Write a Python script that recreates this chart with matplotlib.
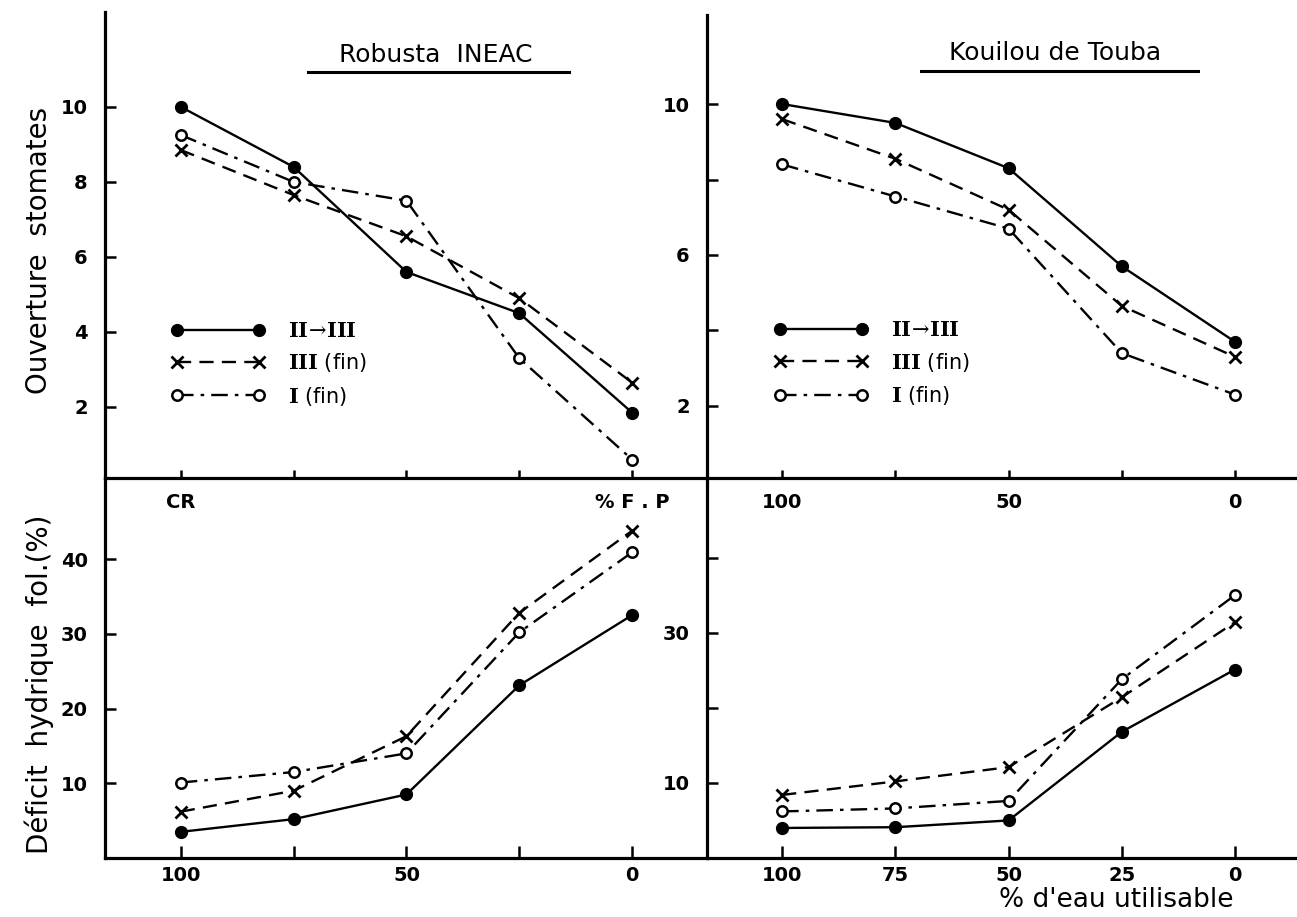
import matplotlib
matplotlib.use("Agg")
import matplotlib.pyplot as plt

plt.rcParams['font.family'] = ['DejaVu Sans']
plt.rcParams['mathtext.fontset'] = 'dejavuserif'

# ---------------- data ----------------
water = [100, 75, 50, 25, 0]   # % d'eau utilisable

# Ouverture stomates
rob_ouv_II_III = [10.0, 8.4, 5.6, 4.5, 1.85]
rob_ouv_III_fin = [8.85, 7.65, 6.55, 4.9, 2.65]
rob_ouv_I_fin = [9.25, 8.0, 7.5, 3.3, 0.6]
kou_ouv_II_III = [10.0, 9.5, 8.3, 5.7, 3.7]
kou_ouv_III_fin = [9.6, 8.55, 7.2, 4.65, 3.3]
kou_ouv_I_fin = [8.4, 7.55, 6.7, 3.4, 2.3]

# Deficit hydrique foliaire (%)
rob_def_II_III = [3.5, 5.2, 8.5, 23.1, 32.5]
rob_def_III_fin = [6.2, 9.0, 16.3, 32.8, 43.8]
rob_def_I_fin = [10.1, 11.5, 14.0, 30.2, 40.9]
kou_def_II_III = [4.0, 4.1, 5.0, 16.8, 25.1]
kou_def_III_fin = [8.4, 10.2, 12.1, 21.4, 31.4]
kou_def_I_fin = [6.2, 6.6, 7.6, 23.8, 35.0]

titles = ["Robusta  INEAC", "Kouilou de Touba"]
legend_labels = [r"$\mathbf{II}\!\rightarrow\!\mathbf{III}$",
                 r"$\mathbf{III}$ (fin)",
                 r"$\mathbf{I}$ (fin)"]

top_left_yticks = [2, 4, 6, 8, 10]
top_left_yticklabels = ["2", "4", "6", "8", "10"]
top_right_yticks = [2, 4, 6, 8, 10]
top_right_yticklabels = ["2", "", "6", "", "10"]
bot_left_yticks = [10, 20, 30, 40]
bot_left_yticklabels = ["10", "20", "30", "40"]
bot_right_yticks = [10, 20, 30, 40]
bot_right_yticklabels = ["10", "", "30", ""]

top_left_xticklabels = ["CR", "", "", "", "% F . P"]
top_right_xticklabels = ["100", "", "50", "", "0"]
bot_left_xticklabels = ["100", "", "50", "", "0"]
bot_right_xticklabels = ["100", "75", "50", "25", "0"]

# ---------------- layout ----------------
W, H = 1297, 917
fig = plt.figure(figsize=(W / 100, H / 100), dpi=100)
fig.patch.set_facecolor("white")


def px_axes(x0, y0, x1, y1):
    return fig.add_axes([x0 / W, (H - y1) / H, (x1 - x0) / W, (y1 - y0) / H])


ax_tl = px_axes(105, 12, 707, 478)
ax_tr = px_axes(707, 15, 1297, 478)
ax_bl = px_axes(105, 478, 707, 858)
ax_br = px_axes(707, 478, 1297, 858)

ax_tl.set_xlim(116.8, -16.6)
ax_bl.set_xlim(116.8, -16.6)
ax_tr.set_xlim(116.6, -13.7)
ax_br.set_xlim(116.6, -13.7)
ax_tl.set_ylim(0.107, 12.53)
ax_tr.set_ylim(0.09, 12.36)
ax_bl.set_ylim(0.0, 50.85)
ax_br.set_ylim(0.0, 50.6)

LW = 1.7
style_II = dict(color="black", lw=LW, ls="-", marker="o", ms=8.5,
                mfc="black", mec="black")
style_III = dict(color="black", lw=LW, ls=(0, (6, 3.5)), marker="x", ms=8,
                 mew=2.0, mec="black")
style_I = dict(color="black", lw=LW, ls=(0, (7, 3, 1.5, 3)), marker="o",
               ms=7.5, mfc="white", mec="black", mew=1.8)

for ax, a, b, c in [
    (ax_tl, rob_ouv_II_III, rob_ouv_III_fin, rob_ouv_I_fin),
    (ax_tr, kou_ouv_II_III, kou_ouv_III_fin, kou_ouv_I_fin),
    (ax_bl, rob_def_II_III, rob_def_III_fin, rob_def_I_fin),
    (ax_br, kou_def_II_III, kou_def_III_fin, kou_def_I_fin),
]:
    h1, = ax.plot(water, a, **style_II, zorder=3)
    h2, = ax.plot(water, b, **style_III, zorder=3)
    h3, = ax.plot(water, c, **style_I, zorder=3)
    ax._handles = [h1, h2, h3]

for ax in (ax_tl, ax_tr, ax_bl, ax_br):
    ax.set_facecolor("none")
    for s in ("top", "right"):
        ax.spines[s].set_visible(False)
    for s in ("left", "bottom"):
        ax.spines[s].set_linewidth(2.3)
    ax.set_xticks(water)
    ax.tick_params(axis="y", direction="in", length=8, width=1.8,
                   labelsize=14, pad=12.5)
    ax.tick_params(axis="x", direction="in", width=1.8, labelsize=14)

ax_tl.tick_params(axis="x", length=6, pad=10.5)
ax_tr.tick_params(axis="x", length=6, pad=10.5)
ax_bl.tick_params(axis="x", length=9, pad=6)
ax_br.tick_params(axis="x", length=9, pad=6)

ax_tl.set_yticks(top_left_yticks, top_left_yticklabels, fontweight="bold")
ax_tr.set_yticks(top_right_yticks, top_right_yticklabels, fontweight="bold")
ax_bl.set_yticks(bot_left_yticks, bot_left_yticklabels, fontweight="bold")
ax_br.set_yticks(bot_right_yticks, bot_right_yticklabels, fontweight="bold")
ax_tl.set_xticks(water, top_left_xticklabels, fontweight="bold")
ax_tr.set_xticks(water, top_right_xticklabels, fontweight="bold")
ax_bl.set_xticks(water, bot_left_xticklabels, fontweight="bold")
ax_br.set_xticks(water, bot_right_xticklabels, fontweight="bold")

# axis labels
fig.text(39 / W, 1 - 250 / H, "Ouverture  stomates", rotation=90,
         ha="center", va="center", fontsize=20)
fig.text(39 / W, 1 - 684 / H, "Déficit  hydrique  fol.(%)", rotation=90,
         ha="center", va="center", fontsize=20)
fig.text(1116 / W, 1 - 900 / H, "% d'eau utilisable",
         ha="center", va="center", fontsize=19)

# titles with underline
for ax, title, xc, yt, ux0, ux1, uy in [
    (ax_tl, titles[0], 0.55, 0.908, 0.337, 0.771, 0.871),
    (ax_tr, titles[1], 0.59, 0.918, 0.363, 0.832, 0.879),
]:
    ax.text(xc, yt, title, transform=ax.transAxes, ha="center",
            va="center", fontsize=18)
    ax.plot([ux0, ux1], [uy, uy], transform=ax.transAxes, color="black",
            lw=2.2, clip_on=False)

# legends
for ax, lx, ly in [(ax_tl, 0.110, 0.337), (ax_tr, 0.1136, 0.341)]:
    ax.legend(ax._handles, legend_labels, loc="upper left",
              bbox_to_anchor=(lx, ly), frameon=False, numpoints=2,
              handlelength=4.5, handletextpad=1.1, labelspacing=0.5,
              borderpad=0, borderaxespad=0, fontsize=15)

fig.savefig("out.png", dpi=100, facecolor="white")
